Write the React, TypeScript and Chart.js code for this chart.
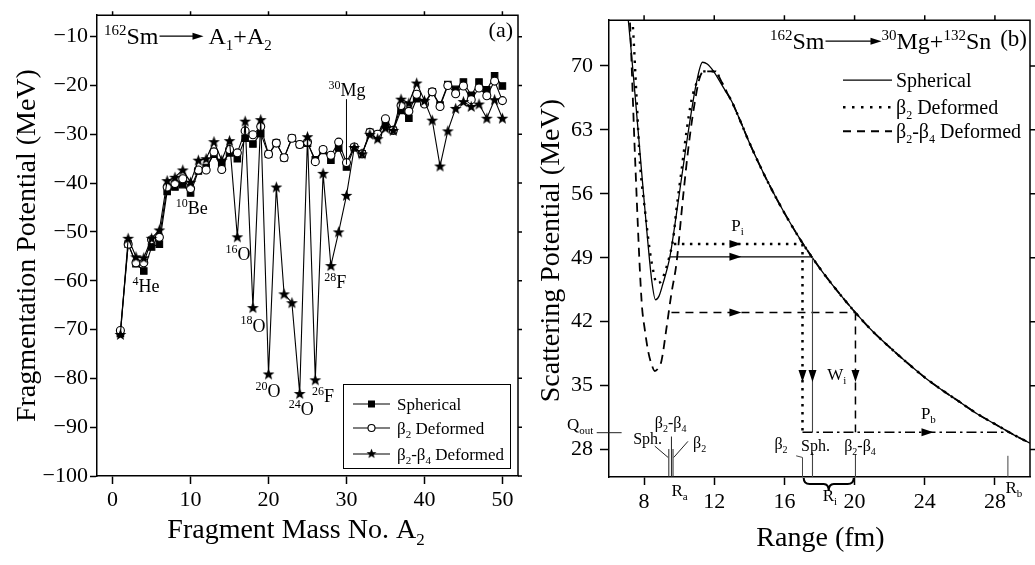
import React, { useEffect, useRef } from 'react';
import { Chart, registerables } from 'chart.js';
Chart.register(...registerables);

const FONT = "'Liberation Serif', 'Times New Roman', Times, serif";
const W = 1035;
const H = 565;

// ---------------- Panel (a): fragmentation potential ----------------
const massNumbers = [1, 2, 3, 4, 5, 6, 7, 8, 9, 10, 11, 12, 13, 14, 15, 16, 17, 18, 19, 20, 21, 22, 23, 24, 25, 26, 27, 28, 29, 30, 31, 32, 33, 34, 35, 36, 37, 38, 39, 40, 41, 42, 43, 44, 45, 46, 47, 48, 49, 50];
const sphericalPot = [-70.8, -52.5, -56.5, -58.0, -53.1, -52.5, -41.7, -40.8, -40.3, -42.0, -37.5, -36.8, -34.1, -36.0, -33.8, -35.0, -30.8, -32.0, -29.8, -34.1, -31.8, -34.8, -30.8, -32.1, -31.8, -35.2, -33.3, -35.3, -32.8, -36.7, -32.7, -34.0, -29.6, -30.0, -27.8, -29.2, -25.1, -26.7, -22.7, -23.5, -21.3, -24.0, -19.8, -20.8, -19.3, -22.0, -19.3, -20.9, -18.0, -20.1];
const beta2Pot = [-70.2, -52.5, -56.3, -56.3, -51.6, -51.1, -40.8, -40.1, -39.1, -41.1, -37.3, -37.3, -33.6, -37.2, -33.1, -33.8, -29.3, -30.1, -28.4, -34.1, -31.8, -34.8, -30.8, -32.1, -31.6, -35.6, -33.1, -34.3, -31.6, -35.8, -32.6, -34.0, -29.6, -30.0, -26.8, -29.2, -24.1, -25.3, -21.8, -23.8, -21.3, -24.3, -20.0, -21.7, -20.1, -22.9, -20.5, -22.1, -19.1, -23.1];
const beta24Pot = [-71.0, -51.3, -55.1, -55.3, -51.3, -49.6, -39.5, -38.8, -37.3, -39.8, -35.3, -35.0, -31.5, -35.3, -31.3, -51.0, -27.3, -65.5, -27.0, -79.1, -40.8, -62.7, -64.5, -83.1, -30.5, -80.3, -38.0, -56.9, -50.0, -42.5, -32.7, -34.0, -30.0, -30.9, -28.7, -29.2, -22.8, -23.6, -19.5, -23.1, -27.1, -36.5, -29.3, -24.7, -23.3, -24.3, -23.8, -26.7, -22.9, -26.7];
const massTicks = [0, 10, 20, 30, 40, 50];
const fragTicks = [-100, -90, -80, -70, -60, -50, -40, -30, -20, -10];

const nuclideLabelA = [2.56, 8.09, 14.49, 16.41, 18.33, 22.58, 25.58, 27.15, 27.7];
const nuclideLabelV = [-62.4, -46.4, -55.8, -70.4, -83.8, -87.6, -84.9, -61.5, -22.1];
const nuclideMass = ['4', '10', '16', '18', '20', '24', '26', '28', '30'];
const nuclideSym = ['He', 'Be', 'O', 'O', 'O', 'O', 'F', 'F', 'Mg'];
const mgPointer = { a: 30, top: -22.8, bottom: -36.2 };

// ---------------- Panel (b): scattering potential ----------------
const rangeTail = [13.5, 14, 14.5, 15, 16, 17, 18, 19, 20, 21, 22, 23, 24, 25, 26, 27, 28, 29, 30];
const potTail = [63.9, 61.6, 59.5, 57.5, 53.9, 50.7, 47.9, 45.4, 43.1, 41.0, 39.2, 37.5, 35.9, 34.5, 33.2, 31.9, 30.8, 29.7, 28.7];
const rangeSph = [6.95, 7.1, 7.5, 7.9, 8.2, 8.45, 8.65, 8.85, 9.05, 9.47, 9.8, 10.2, 10.6, 11.0, 11.33, 11.6, 12.0, 12.5, 13.0];
const potSph = [77.5, 75.0, 66.5, 57.5, 51.0, 46.3, 44.4, 44.8, 46.0, 49.1, 53.2, 58.6, 63.8, 68.3, 70.4, 70.2, 69.3, 67.7, 66.1];
const rangeB2 = [7.25, 7.34, 7.57, 7.76, 8.05, 8.33, 8.55, 8.71, 8.9, 9.09, 9.37, 9.66, 9.84, 10.13, 10.41, 10.7, 11.07, 11.36, 11.7, 12.1, 12.3, 12.6, 13.0];
const potB2 = [77.0, 75.0, 66.6, 59.5, 54.2, 49.7, 47.3, 46.2, 46.3, 46.9, 48.6, 51.1, 54.2, 58.5, 62.7, 66.2, 68.5, 69.4, 69.4, 69.4, 68.7, 67.5, 66.1];
const rangeB24 = [7.1, 7.19, 7.48, 7.86, 8.05, 8.24, 8.45, 8.61, 8.8, 8.99, 9.27, 9.56, 9.84, 10.22, 10.5, 10.79, 11.17, 11.45, 11.8, 12.1, 12.3, 12.6, 13.0];
const potB24 = [78.0, 75.0, 60.2, 44.2, 41.0, 38.7, 37.2, 36.6, 36.9, 37.7, 41.2, 45.1, 48.3, 55.6, 60.6, 64.8, 68.7, 69.4, 69.4, 69.4, 68.7, 67.5, 66.1];
const rangeTicks = [8, 12, 16, 20, 24, 28];
const scatTicks = [28, 35, 42, 49, 56, 63, 70];

// barrier-penetration annotation values (MeV, fm)
const energyB2 = 50.5;
const energySph = 49.1;
const energyB24 = 43.0;
const qOut = 29.9;
const raB2 = 9.7;
const raSph = 9.47;
const raB24 = 9.56;
const riB2 = 17.03;
const riSph = 17.6;
const riB24 = 20.05;
const rb = 28.74;
const piArrowR = 13.55;
const pbArrowR = 24.5;
const wiArrowV = 35.4;

type Seg = { t: string; s: number; dy: number };
const N = (t: string, s: number): Seg => ({ t, s, dy: 0 });
const SUP = (t: string, s: number): Seg => ({ t, s: Math.round(s * 0.62), dy: -s * 0.38 });
const SUB = (t: string, s: number): Seg => ({ t, s: Math.round(s * 0.62), dy: s * 0.24 });

function segWidth(ctx: CanvasRenderingContext2D, segs: Seg[]) {
  let w = 0;
  for (const g of segs) {
    ctx.font = `${g.s}px ${FONT}`;
    w += ctx.measureText(g.t).width;
  }
  return w;
}
function drawSegs(ctx: CanvasRenderingContext2D, x: number, y: number, segs: Seg[], align: 'left' | 'center' | 'right' = 'left') {
  const w = segWidth(ctx, segs);
  let cx = align === 'left' ? x : align === 'center' ? x - w / 2 : x - w;
  ctx.textAlign = 'left';
  ctx.textBaseline = 'alphabetic';
  ctx.fillStyle = '#000';
  for (const g of segs) {
    ctx.font = `${g.s}px ${FONT}`;
    ctx.fillText(g.t, cx, y + g.dy);
    cx += ctx.measureText(g.t).width;
  }
  return cx;
}
function arrowHead(ctx: CanvasRenderingContext2D, x: number, y: number, dir: 'right' | 'down', len = 12, half = 4) {
  ctx.save();
  ctx.setLineDash([]);
  ctx.fillStyle = '#000';
  ctx.beginPath();
  if (dir === 'right') {
    ctx.moveTo(x, y);
    ctx.lineTo(x - len, y - half);
    ctx.lineTo(x - len, y + half);
  } else {
    ctx.moveTo(x, y);
    ctx.lineTo(x - half, y - len);
    ctx.lineTo(x + half, y - len);
  }
  ctx.closePath();
  ctx.fill();
  ctx.restore();
}
function line(ctx: CanvasRenderingContext2D, x1: number, y1: number, x2: number, y2: number, width = 1, dash: number[] = [], color = '#000') {
  ctx.save();
  ctx.strokeStyle = color;
  ctx.lineWidth = width;
  ctx.setLineDash(dash);
  ctx.beginPath();
  ctx.moveTo(x1, y1);
  ctx.lineTo(x2, y2);
  ctx.stroke();
  ctx.restore();
}
function drawFrame(chart: any, xt: number[], yt: number[], len: number) {
  const { ctx, chartArea: ca, scales } = chart;
  ctx.save();
  ctx.strokeStyle = '#000';
  ctx.lineWidth = 1.5;
  ctx.beginPath();
  ctx.moveTo(ca.left, ca.top);
  ctx.lineTo(ca.right, ca.top);
  ctx.lineTo(ca.right, ca.bottom);
  for (const v of xt) {
    const p = scales.x.getPixelForValue(v);
    ctx.moveTo(p, ca.top);
    ctx.lineTo(p, ca.top - len);
  }
  for (const v of yt) {
    const p = scales.y.getPixelForValue(v);
    ctx.moveTo(ca.right, p);
    ctx.lineTo(ca.right + len, p);
  }
  ctx.stroke();
  ctx.restore();
}
function titleArrow(ctx: CanvasRenderingContext2D, x1: number, x2: number, y: number) {
  line(ctx, x1, y, x2 - 8, y, 1.3);
  arrowHead(ctx, x2, y, 'right', 11, 3.5);
}

function makeStar(): HTMLCanvasElement {
  const c = document.createElement('canvas');
  c.width = 13;
  c.height = 13;
  const g = c.getContext('2d')!;
  g.fillStyle = '#000';
  g.beginPath();
  for (let i = 0; i < 10; i++) {
    const r = i % 2 === 0 ? 6.2 : 2.6;
    const a = -Math.PI / 2 + (i * Math.PI) / 5;
    const px = 6.5 + r * Math.cos(a);
    const py = 7 + r * Math.sin(a);
    if (i === 0) g.moveTo(px, py);
    else g.lineTo(px, py);
  }
  g.closePath();
  g.fill();
  return c;
}

const tickFont = { family: FONT, size: 22 };
const minusLabel = (v: any) => String(v).replace('-', '\u2212');

function leftConfig(star: HTMLCanvasElement): any {
  const decor = {
    id: 'leftDecor',
    afterDraw(chart: any) {
      const { ctx, chartArea: ca, scales: { x, y } } = chart;
      ctx.save();
      drawFrame(chart, massTicks, fragTicks, 4);
      // nuclide labels
      for (let i = 0; i < nuclideSym.length; i++) {
        drawSegs(ctx, x.getPixelForValue(nuclideLabelA[i]), y.getPixelForValue(nuclideLabelV[i]), [SUP(nuclideMass[i], 19), N(nuclideSym[i], 18)]);
      }
      const mx = x.getPixelForValue(mgPointer.a);
      line(ctx, mx, y.getPixelForValue(mgPointer.top), mx, y.getPixelForValue(mgPointer.bottom), 1);
      // title
      const b = 24;
      let cx = drawSegs(ctx, ca.left + 7, ca.top + 29, [SUP('162', b), N('Sm', b)]);
      titleArrow(ctx, cx + 1, cx + 45, ca.top + 21);
      drawSegs(ctx, cx + 50, ca.top + 29, [N('A', b), SUB('1', b), N('+A', b), SUB('2', b)]);
      ctx.font = `22px ${FONT}`;
      ctx.textAlign = 'right';
      ctx.fillText('(a)', ca.right - 5, ca.top + 22);
      // legend box
      const bx = ca.right - 175, by = ca.bottom - 92, bw = 167, bh = 84;
      ctx.strokeStyle = '#000';
      ctx.lineWidth = 1;
      ctx.strokeRect(bx + 0.5, by + 0.5, bw, bh);
      const rows = [by + 20, by + 44, by + 70];
      const names: Seg[][] = [
        [N('Spherical', 17)],
        [N('β', 17), SUB('2', 17), N(' Deformed', 17)],
        [N('β', 17), SUB('2', 17), N('-β', 17), SUB('4', 17), N(' Deformed', 17)],
      ];
      rows.forEach((ry, i) => {
        line(ctx, bx + 10, ry, bx + 47, ry, 1.2);
        const mxp = bx + 28.5;
        if (i === 0) {
          ctx.fillStyle = '#000';
          ctx.fillRect(mxp - 3.5, ry - 3.5, 7, 7);
        } else if (i === 1) {
          ctx.beginPath();
          ctx.arc(mxp, ry, 3.5, 0, Math.PI * 2);
          ctx.fillStyle = '#fff';
          ctx.fill();
          ctx.lineWidth = 1.1;
          ctx.strokeStyle = '#000';
          ctx.stroke();
        } else {
          ctx.drawImage(star, mxp - 5.5, ry - 6, 11, 11);
        }
        drawSegs(ctx, bx + 54, ry + 6, names[i]);
      });
      // axis titles
      ctx.save();
      ctx.translate(ca.left - 69, (ca.top + ca.bottom) / 2);
      ctx.rotate(-Math.PI / 2);
      ctx.font = `28px ${FONT}`;
      ctx.textAlign = 'center';
      ctx.textBaseline = 'middle';
      ctx.fillStyle = '#000';
      ctx.fillText('Fragmentation Potential (MeV)', 0, 0);
      ctx.restore();
      drawSegs(ctx, ca.left + 199, ca.bottom + 62, [N('Fragment Mass No. A', 28), SUB('2', 28)], 'center');
      ctx.restore();
    },
  };
  const mk = (vals: number[]) => massNumbers.map((a, i) => ({ x: a, y: vals[i] }));
  return {
    type: 'line',
    data: {
      datasets: [
        { label: 'β2-β4 Deformed', data: mk(beta24Pot), borderColor: '#000', borderWidth: 1.1, pointStyle: star, pointRadius: 5, tension: 0, order: 0 },
        { label: 'β2 Deformed', data: mk(beta2Pot), borderColor: '#000', borderWidth: 1.1, pointStyle: 'circle', pointRadius: 4, pointBackgroundColor: '#fff', pointBorderColor: '#000', pointBorderWidth: 1.1, tension: 0, order: 1 },
        { label: 'Spherical', data: mk(sphericalPot), borderColor: '#000', borderWidth: 1.1, pointStyle: 'rect', pointRadius: 4.6, pointBackgroundColor: '#000', pointBorderColor: '#000', tension: 0, order: 2 },
      ],
    },
    options: {
      animation: false,
      responsive: false,
      events: [],
      layout: { padding: { left: 0, top: 4, right: W - 518, bottom: 0 } },
      plugins: { legend: { display: false }, tooltip: { enabled: false } },
      scales: {
        x: {
          type: 'linear', min: -2, max: 52,
          afterBuildTicks: (s: any) => { s.ticks = massTicks.map((v) => ({ value: v })); },
          afterFit: (s: any) => { s.height = H - 476; },
          ticks: { font: tickFont, color: '#000', padding: 3, maxRotation: 0 },
          grid: { drawOnChartArea: false, drawTicks: true, tickLength: 8, tickColor: '#000', tickWidth: 1.5 },
          border: { color: '#000', width: 1.5 },
        },
        y: {
          type: 'linear', min: -100, max: -5.6,
          afterBuildTicks: (s: any) => { s.ticks = fragTicks.map((v) => ({ value: v })); },
          afterFit: (s: any) => { s.width = 97; },
          ticks: { font: tickFont, color: '#000', padding: 2, callback: minusLabel },
          grid: { drawOnChartArea: false, drawTicks: true, tickLength: 7, tickColor: '#000', tickWidth: 1.5 },
          border: { color: '#000', width: 1.5 },
        },
      },
    },
    plugins: [decor],
  };
}

function rightConfig(): any {
  const decor = {
    id: 'rightDecor',
    afterDraw(chart: any) {
      const { ctx, chartArea: ca, scales: { x, y } } = chart;
      const X = (v: number) => x.getPixelForValue(v);
      const Y = (v: number) => y.getPixelForValue(v);
      ctx.save();
      drawFrame(chart, rangeTicks, scatTicks, 5);
      const dot = [2.5, 5.5];
      const dash = [8, 6];
      const dashDot = [10, 4, 2.5, 4];
      // horizontal barrier lines
      line(ctx, X(raB2), Y(energyB2), X(riB2), Y(energyB2), 2.5, dot);
      line(ctx, X(raSph), Y(energySph), X(riSph), Y(energySph), 1.2);
      line(ctx, X(raB24), Y(energyB24), X(riB24), Y(energyB24), 1.5, dash);
      arrowHead(ctx, X(piArrowR), Y(energyB2), 'right');
      arrowHead(ctx, X(piArrowR), Y(energySph), 'right');
      arrowHead(ctx, X(piArrowR), Y(energyB24), 'right');
      // vertical lines
      line(ctx, X(riB2), Y(energyB2), X(riB2), Y(qOut), 2.5, dot);
      line(ctx, X(riSph), Y(energySph), X(riSph), Y(qOut), 1.1, [], '#444');
      line(ctx, X(riSph), Y(27.7), X(riSph), Y(25), 1.1, [], '#444');
      line(ctx, X(riB24), Y(energyB24), X(riB24), Y(qOut), 1.5, dash);
      line(ctx, X(riB24), Y(27.5), X(riB24), Y(25), 1.1, [], '#444');
      arrowHead(ctx, X(riB2), Y(wiArrowV), 'down');
      arrowHead(ctx, X(riSph), Y(wiArrowV), 'down');
      arrowHead(ctx, X(riB24), Y(wiArrowV), 'down');
      // emission line
      line(ctx, X(riB2), Y(qOut), X(rb), Y(qOut), 1.5, dashDot);
      arrowHead(ctx, X(pbArrowR), Y(qOut), 'right');
      // beta2 connector at Ri
      line(ctx, X(16.67), Y(27.32), X(riB2), Y(27.14), 1, [], '#444');
      line(ctx, X(riB2), Y(27.14), X(riB2), Y(25), 1, [], '#444');
      // Rb marker
      line(ctx, X(rb), Y(27.32), X(rb), Y(25), 1, [], '#444');
      // Ra markers
      line(ctx, X(9.41), Y(28.06), X(9.41), Y(25), 1, [], '#222');
      line(ctx, X(9.56), Y(29.43), X(9.56), Y(25), 1, [], '#222');
      line(ctx, X(9.65), Y(28.06), X(9.65), Y(25), 1, [], '#222');
      line(ctx, X(8.61), Y(28.38), X(9.37), Y(27.14), 1, [], '#222');
      line(ctx, X(10.5), Y(28.9), X(9.69), Y(27.14), 1, [], '#222');
      // Q_out
      line(ctx, X(5.3), Y(29.85), X(6.72), Y(29.85), 1, [], '#222');
      // brace under axis for Ri
      const x1 = X(17.1), x2 = X(19.95), y0 = ca.bottom + 1, mid = (x1 + x2) / 2;
      ctx.save();
      ctx.strokeStyle = '#000';
      ctx.lineWidth = 2;
      ctx.beginPath();
      ctx.moveTo(x1, y0);
      ctx.quadraticCurveTo(x1, y0 + 6, x1 + 6, y0 + 6);
      ctx.lineTo(mid - 5, y0 + 6);
      ctx.quadraticCurveTo(mid, y0 + 6, mid, y0 + 13);
      ctx.quadraticCurveTo(mid, y0 + 6, mid + 5, y0 + 6);
      ctx.lineTo(x2 - 6, y0 + 6);
      ctx.quadraticCurveTo(x2, y0 + 6, x2, y0);
      ctx.stroke();
      ctx.restore();
      // labels
      drawSegs(ctx, X(12.97), Y(51.94), [N('P', 17), SUB('i', 17)]);
      drawSegs(ctx, X(18.44), Y(35.58), [N('W', 17), SUB('i', 17)]);
      drawSegs(ctx, X(23.78), Y(31.36), [N('P', 17), SUB('b', 17)]);
      drawSegs(ctx, X(15.43), Y(28.06), [N('β', 16), SUB('2', 16)]);
      drawSegs(ctx, X(16.95), Y(27.85), [N('Sph.', 16)]);
      drawSegs(ctx, X(19.41), Y(27.85), [N('β', 16), SUB('2', 16), N('-β', 16), SUB('4', 16)]);
      drawSegs(ctx, X(3.6), Y(30.14), [N('Q', 17), SUB('out', 17)]);
      drawSegs(ctx, X(8.61), Y(30.31), [N('β', 16), SUB('2', 16), N('-β', 16), SUB('4', 16)]);
      drawSegs(ctx, X(7.38), Y(28.56), [N('Sph.', 16)]);
      drawSegs(ctx, X(10.79), Y(28.2), [N('β', 16), SUB('2', 16)]);
      drawSegs(ctx, X(9.56), Y(22.92), [N('R', 17), SUB('a', 17)]);
      drawSegs(ctx, X(18.18), Y(22.39), [N('R', 17), SUB('i', 17)]);
      drawSegs(ctx, X(28.6), Y(23.28), [N('R', 17), SUB('b', 17)]);
      // title
      const b = 24;
      let cx = drawSegs(ctx, ca.right - 260, ca.top + 29, [SUP('162', b), N('Sm', b)]);
      titleArrow(ctx, cx + 1, cx + 57, ca.top + 21);
      drawSegs(ctx, cx + 57, ca.top + 29, [SUP('30', b), N('Mg+', b), SUP('132', b), N('Sn', b)]);
      ctx.font = `23px ${FONT}`;
      ctx.textAlign = 'right';
      ctx.fillStyle = '#000';
      ctx.fillText('(b)', ca.right - 3, ca.top + 26);
      // legend
      const lx1 = ca.right - 187, lx2 = ca.right - 138, tx = ca.right - 134;
      const rows = [ca.top + 60, ca.top + 87, ca.top + 111];
      line(ctx, lx1, rows[0], lx2, rows[0], 1.3);
      line(ctx, lx1, rows[1], lx2, rows[1], 2.5, [2.5, 6.5]);
      line(ctx, lx1, rows[2], lx2, rows[2], 2, [8, 6]);
      drawSegs(ctx, tx, rows[0] + 7, [N('Spherical', 20)]);
      drawSegs(ctx, tx, rows[1] + 7, [N('β', 20), SUB('2', 20), N(' Deformed', 20)]);
      drawSegs(ctx, tx, rows[2] + 7, [N('β', 20), SUB('2', 20), N('-β', 20), SUB('4', 20), N(' Deformed', 20)]);
      // axis titles
      ctx.save();
      ctx.translate(ca.left - 57, (ca.top + ca.bottom) / 2 + 2);
      ctx.rotate(-Math.PI / 2);
      ctx.font = `28px ${FONT}`;
      ctx.textAlign = 'center';
      ctx.textBaseline = 'middle';
      ctx.fillStyle = '#000';
      ctx.fillText('Scattering Potential (MeV)', 0, 0);
      ctx.restore();
      drawSegs(ctx, (ca.left + ca.right) / 2 + 1, ca.bottom + 69, [N('Range (fm)', 28)], 'center');
      ctx.restore();
    },
  };
  const mk = (rs: number[], vs: number[]) =>
    rs.concat(rangeTail).map((r, i) => ({ x: r, y: vs.concat(potTail)[i] }));
  return {
    type: 'line',
    data: {
      datasets: [
        { label: 'Spherical', data: mk(rangeSph, potSph), borderColor: '#000', borderWidth: 1.3, pointRadius: 0, cubicInterpolationMode: 'monotone' },
        { label: 'β2 Deformed', data: mk(rangeB2, potB2), borderColor: '#000', borderWidth: 2.4, borderDash: [2.4, 6], pointRadius: 0, cubicInterpolationMode: 'monotone' },
        { label: 'β2-β4 Deformed', data: mk(rangeB24, potB24), borderColor: '#000', borderWidth: 1.8, borderDash: [9, 6], pointRadius: 0, cubicInterpolationMode: 'monotone' },
      ],
    },
    options: {
      animation: false,
      responsive: false,
      events: [],
      layout: { padding: { left: 0, top: 3, right: W - 1030, bottom: 0 } },
      plugins: { legend: { display: false }, tooltip: { enabled: false } },
      scales: {
        x: {
          type: 'linear', min: 6, max: 30,
          afterBuildTicks: (s: any) => { s.ticks = rangeTicks.map((v) => ({ value: v })); },
          afterFit: (s: any) => { s.height = H - 477; },
          ticks: { font: tickFont, color: '#000', padding: 4, maxRotation: 0 },
          grid: { drawOnChartArea: false, drawTicks: true, tickLength: 8, tickColor: '#000', tickWidth: 1.5 },
          border: { color: '#000', width: 1.5 },
        },
        y: {
          type: 'linear', min: 25, max: 75,
          afterBuildTicks: (s: any) => { s.ticks = scatTicks.map((v) => ({ value: v })); },
          afterFit: (s: any) => { s.width = 609; },
          ticks: { font: tickFont, color: '#000', padding: 7 },
          grid: { drawOnChartArea: false, drawTicks: true, tickLength: 9, tickColor: '#000', tickWidth: 1.5 },
          border: { color: '#000', width: 1.5 },
        },
      },
    },
    plugins: [decor],
  };
}

export default function App() {
  const leftRef = useRef<HTMLCanvasElement>(null);
  const rightRef = useRef<HTMLCanvasElement>(null);
  useEffect(() => {
    document.body.style.margin = '0';
    const star = makeStar();
    const c1 = new Chart(leftRef.current!, leftConfig(star));
    const c2 = new Chart(rightRef.current!, rightConfig());
    return () => {
      c1.destroy();
      c2.destroy();
    };
  }, []);
  return (
    <div style={{ position: 'relative', width: W, height: H, background: '#fff', overflow: 'hidden' }}>
      <canvas ref={leftRef} width={W} height={H} style={{ position: 'absolute', left: 0, top: 0 }} />
      <canvas ref={rightRef} width={W} height={H} style={{ position: 'absolute', left: 0, top: 0 }} />
    </div>
  );
}
